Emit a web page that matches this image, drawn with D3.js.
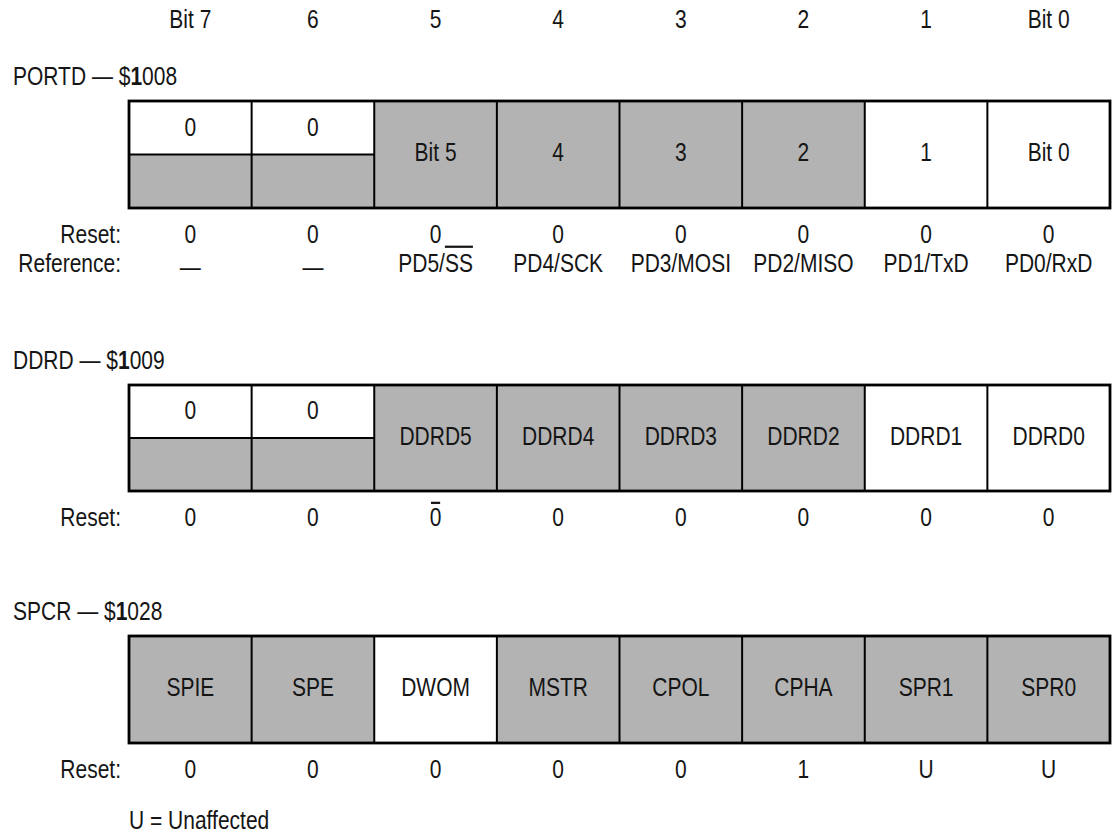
<!DOCTYPE html>
<html><head><meta charset="utf-8">
<script src="https://cdn.jsdelivr.net/npm/d3@7"></script>
<style>
html,body{margin:0;padding:0;background:#fff;}
text{font-family:"Liberation Sans","Arial",sans-serif;font-size:25px;fill:#151515;}
</style></head><body>
<svg id="c" width="1113" height="835"></svg>
<script>
const bits = [7,6,5,4,3,2,1,0];
const headerLabels = ["Bit 7","6","5","4","3","2","1","Bit 0"];

const portdLabels = ["0","0","Bit 5","4","3","2","1","Bit 0"];
const portdKinds  = ["split","split","gray","gray","gray","gray","white","white"];
const portdReset  = ["0","0","0","0","0","0","0","0"];
const portdRef    = ["—","—","PD5/SS","PD4/SCK","PD3/MOSI","PD2/MISO","PD1/TxD","PD0/RxD"];

const ddrdLabels = ["0","0","DDRD5","DDRD4","DDRD3","DDRD2","DDRD1","DDRD0"];
const ddrdKinds  = ["split","split","gray","gray","gray","gray","white","white"];
const ddrdReset  = ["0","0","0","0","0","0","0","0"];

const spcrLabels = ["SPIE","SPE","DWOM","MSTR","CPOL","CPHA","SPR1","SPR0"];
const spcrKinds  = ["gray","gray","white","gray","gray","gray","gray","gray"];
const spcrReset  = ["0","0","0","0","0","1","U","U"];

const GRAY = "#b3b3b3";
const FS = 25, SX = 0.84;
const svg = d3.select("#c");
const x = d3.scaleBand().domain(bits).range([129,1110]).padding(0);
const cx = b => x(b) + x.bandwidth()/2;

// narrow text helper (Helvetica-Narrow look)
function T(parent, px, py, str, anchor){
  const g = parent.append("g").attr("transform", `translate(${px},${py}) scale(${SX},1)`);
  const t = g.append("text").attr("text-anchor", anchor || "middle").attr("dy","0.35em");
  if (str != null) t.text(str);
  return {g, t};
}

// header
bits.forEach((b,i)=> T(svg, cx(b), 19, headerLabels[i]));

function register(cfg){
  const g = svg.append("g");
  const top = cfg.top, h = cfg.h, mid = top + h/2;
  const ti = T(g, 13, top - 25, null, "start");
  ti.t.append("tspan").text(cfg.name + " — $");
  ti.t.append("tspan").attr("font-weight","bold").text(cfg.addr[0]);
  ti.t.append("tspan").text(cfg.addr.slice(1));

  const cells = g.append("g");
  bits.forEach((b,i)=>{
    const k = cfg.kinds[i];
    const x0 = x(b), w = x.bandwidth();
    if (k === "split") {
      cells.append("rect").attr("x",x0).attr("y",top).attr("width",w).attr("height",h/2).attr("fill","#fff");
      cells.append("rect").attr("x",x0).attr("y",mid).attr("width",w).attr("height",h/2).attr("fill",GRAY);
      cells.append("line").attr("x1",x0).attr("x2",x0+w).attr("y1",mid).attr("y2",mid).attr("stroke","#000").attr("stroke-width",2);
      T(cells, cx(b), top+h/4 - 1, cfg.labels[i]);
    } else {
      cells.append("rect").attr("x",x0).attr("y",top).attr("width",w).attr("height",h).attr("fill", k==="gray"?GRAY:"#fff");
      T(cells, cx(b), mid - 2, cfg.labels[i]);
    }
  });
  g.append("g").selectAll("line").data(bits.slice(1)).join("line")
    .attr("x1",b=>x(b)).attr("x2",b=>x(b)).attr("y1",top).attr("y2",top+h)
    .attr("stroke","#000").attr("stroke-width",2);
  g.append("rect").attr("x",x.range()[0]).attr("y",top).attr("width",x.range()[1]-x.range()[0]).attr("height",h)
    .attr("fill","none").attr("stroke","#000").attr("stroke-width",2.8);

  const ry = top + h + 26;
  T(g, 121, ry, "Reset:", "end");
  bits.forEach((b,i)=>{
    const r = T(g, cx(b), ry, cfg.reset[i]);
    if (cfg.resetOver === i) {
      const n = r.t.node();
      const s = n.getStartPositionOfChar(0).x, e = n.getEndPositionOfChar(0).x;
      const capTop = 0.35*FS - 0.716*FS;
      r.g.append("line").attr("x1",s+1.5).attr("x2",e-1.5).attr("y1",capTop-5).attr("y2",capTop-5)
        .attr("stroke","#111").attr("stroke-width",2.2);
    }
  });
  if (cfg.ref) {
    const fy = ry + 29;
    T(g, 121, fy, "Reference:", "end");
    bits.forEach((b,i)=>{
      const label = cfg.ref[i];
      if (label === "—") { T(g, cx(b), fy + 4, label); return; }
      const r = T(g, cx(b), fy, label);
      if (label.endsWith("/SS")) {
        const n = r.t.node();
        const s = n.getStartPositionOfChar(label.length-2).x;
        const e = n.getEndPositionOfChar(label.length-1).x;
        const oy = -0.37*FS - 7;
        r.g.append("line").attr("x1",s).attr("x2",e).attr("y1",oy).attr("y2",oy)
          .attr("stroke","#111").attr("stroke-width",2.2);
      }
    });
  }
}

register({name:"PORTD", addr:"1008", top:101, h:107, labels:portdLabels, kinds:portdKinds, reset:portdReset, ref:portdRef});
register({name:"DDRD", addr:"1009", top:385, h:106, labels:ddrdLabels, kinds:ddrdKinds, reset:ddrdReset, resetOver:2});
register({name:"SPCR", addr:"1028", top:636, h:107, labels:spcrLabels, kinds:spcrKinds, reset:spcrReset});

T(svg, 129, 820, "U = Unaffected", "start");
</script></body></html>
